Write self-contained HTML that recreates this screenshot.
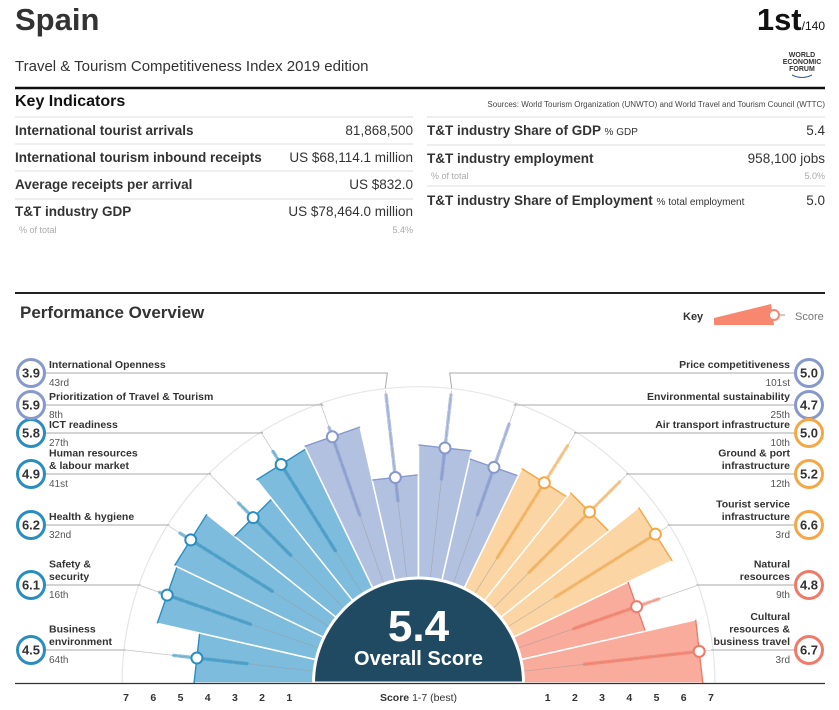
<!DOCTYPE html>
<html><head><meta charset="utf-8"><style>
body{margin:0;background:#fff;overflow:hidden;}
svg{display:block;font-family:"Liberation Sans",Arial,sans-serif;}
</style></head><body>
<svg id="chart" width="839" height="710" viewBox="0 0 839 710">
  <text x="15" y="30" font-size="31" font-weight="bold" fill="#333">Spain</text>
  <text x="825" y="30" text-anchor="end" fill="#111"><tspan font-size="31" font-weight="bold">1st</tspan><tspan font-size="12">/140</tspan></text>
  <text x="15" y="71" font-size="15" fill="#333">Travel &amp; Tourism Competitiveness Index 2019 edition</text>
  <g fill="#333" font-size="7" font-weight="bold" text-anchor="middle">
    <text x="802" y="57">WORLD</text><text x="802" y="64">ECONOMIC</text><text x="802" y="71">FORUM</text>
    <path d="M792 75 Q802 80 812 75" stroke="#335a9a" fill="none" stroke-width="1"/>
  </g>
  <line x1="15" y1="88" x2="825" y2="88" stroke="#111" stroke-width="2.5"/>
  <text x="15" y="106" font-size="16" font-weight="bold" fill="#111">Key Indicators</text>
  <text x="825" y="107" text-anchor="end" font-size="8" fill="#444">Sources: World Tourism Organization (UNWTO) and World Travel and Tourism Council (WTTC)</text>
  <g stroke="#ddd" stroke-width="1">
    <line x1="15" y1="117" x2="413" y2="117"/><line x1="15" y1="144" x2="413" y2="144"/><line x1="15" y1="171" x2="413" y2="171"/><line x1="15" y1="199" x2="413" y2="199"/>
    <line x1="427" y1="117" x2="825" y2="117"/><line x1="427" y1="145" x2="825" y2="145"/><line x1="427" y1="186" x2="825" y2="186"/>
  </g>
  <g font-size="13.5" fill="#333">
    <text x="15" y="135" font-weight="bold">International tourist arrivals</text><text x="413" y="135" text-anchor="end">81,868,500</text>
    <text x="15" y="162" font-weight="bold">International tourism inbound receipts</text><text x="413" y="162" text-anchor="end">US $68,114.1 million</text>
    <text x="15" y="189" font-weight="bold">Average receipts per arrival</text><text x="413" y="189" text-anchor="end">US $832.0</text>
    <text x="15" y="216" font-weight="bold">T&amp;T industry GDP</text><text x="413" y="216" text-anchor="end">US $78,464.0 million</text>
    <text x="19" y="233" font-size="9" fill="#aaa">% of total</text><text x="413" y="233" font-size="9" fill="#aaa" text-anchor="end">5.4%</text>
  </g>
  <g font-size="13.5" fill="#333">
    <text x="427" y="135" font-weight="bold">T&amp;T industry Share of GDP <tspan font-weight="normal" font-size="10">% GDP</tspan></text><text x="825" y="135" text-anchor="end">5.4</text>
    <text x="427" y="163" font-weight="bold">T&amp;T industry employment</text><text x="825" y="163" text-anchor="end">958,100 jobs</text>
    <text x="431" y="179" font-size="9" fill="#aaa">% of total</text><text x="825" y="179" font-size="9" fill="#aaa" text-anchor="end">5.0%</text>
    <text x="427" y="205" font-weight="bold">T&amp;T industry Share of Employment <tspan font-weight="normal" font-size="10">% total employment</tspan></text><text x="825" y="205" text-anchor="end">5.0</text>
  </g>
  <line x1="15" y1="293" x2="825" y2="293" stroke="#222" stroke-width="2"/>
  <text x="20" y="318" font-size="17" font-weight="bold" fill="#333">Performance Overview</text>
  <g>
    <text x="683" y="320" font-size="11" font-weight="bold" fill="#333">Key</text>
    <polygon points="714,318 714,325 774,325 771,304" fill="#f7876f"/>
    <line x1="774" y1="315" x2="785" y2="315" stroke="#999"/>
    <circle cx="774" cy="315" r="5" fill="#fff" stroke="#f7876f" stroke-width="2"/>
    <text x="795" y="320" font-size="11" fill="#777">Score</text>
  </g>
  <g id="plot"></g>
</svg>
<script>
const pillars = ["Business environment","Safety & security","Health & hygiene","Human resources & labour market","ICT readiness","Prioritization of Travel & Tourism","International Openness","Price competitiveness","Environmental sustainability","Air transport infrastructure","Ground & port infrastructure","Tourist service infrastructure","Natural resources","Cultural resources & business travel"];
const scores = [4.5,6.1,6.2,4.9,5.8,5.9,3.9,5.0,4.7,5.0,5.2,6.6,4.8,6.7];
const ranks = ["64th","16th","32nd","41st","27th","8th","43rd","101st","25th","10th","12th","3rd","9th","3rd"];
const distLow = [2.6,2.8,2.6,2.9,2.0,2.8,3.0,3.8,2.8,1.7,2.0,2.2,2.3,2.4];
const distHigh = [5.3,6.4,6.6,5.6,6.3,6.2,6.9,6.9,6.4,6.6,6.7,6.4,5.6,6.4];
const groups = [0,0,0,0,0,1,1,1,1,2,2,2,3,3];
const tickVals = [1,2,3,4,5,6,7];

const fills=["#7dbcdc","#b3c1e1","#fcd5a4","#f9ab9c"];
const strokes=["#2a8dc0","#8799cc","#f5a745","#f07a68"];
const dists=["#2a8dc0","#7a90cc","#f5a745","#f5715c"];
const cx=418.5, cy=683, n=scores.length, step=180/n;
function rad(v){return 102+v*27.2;}
function pt(r,deg){const a=deg*Math.PI/180;return [cx+r*Math.cos(a), cy-r*Math.sin(a)];}
const NS="http://www.w3.org/2000/svg";
const plot=document.getElementById('plot');
function mk(tag,attrs,parent){const e=document.createElementNS(NS,tag);for(const k in attrs)e.setAttribute(k,attrs[k]);(parent||plot).appendChild(e);return e;}

const arc=mk('path',{d:`M${cx-rad(7)-4} ${cy} A${rad(7)+4} ${rad(7)+4} 0 0 1 ${cx+rad(7)+4} ${cy}`,fill:'none',stroke:'#e6e6e6','stroke-width':1.2});



const left=[[650,"Business","environment"],[585,"Safety &","security"],[525,"Health & hygiene"],[474,"Human resources","& labour market"],[433,"ICT readiness"],[405,"Prioritization of Travel & Tourism"],[373,"International Openness"]];
const right=[[373,"Price competitiveness"],[405,"Environmental sustainability"],[433,"Air transport infrastructure"],[474,"Ground & port","infrastructure"],[525,"Tourist service","infrastructure"],[585,"Natural","resources"],[650,"Cultural","resources &","business travel"]];

for(let i=0;i<n;i++){
  const a0=180-i*step, a1=180-(i+1)*step, am=(a0+a1)/2, g=groups[i];
  const r=rad(scores[i]);
  const p0=pt(r,a0), p1=pt(r,a1);
  const w=mk('path',{d:`M${cx} ${cy} L${p0[0]} ${p0[1]} L${p1[0]} ${p1[1]} Z`,fill:fills[g],stroke:'#fff','stroke-width':1.5});
  
  
  const e=mk('line',{x1:p0[0],y1:p0[1],x2:p1[0],y2:p1[1],stroke:strokes[g],'stroke-width':1.5});
  
  
  const po=pt(rad(7)+2,am), pc=pt(102,am);
  const gl=mk('line',{x1:pc[0],y1:pc[1],x2:po[0],y2:po[1],stroke:'#999','stroke-width':0.7,opacity:0.6});
  
  
  const d0=pt(rad(distLow[i]),am), d1=pt(rad(distHigh[i]),am);
  const dl=mk('line',{x1:d0[0],y1:d0[1],x2:d1[0],y2:d1[1],stroke:dists[g],'stroke-width':3.5,opacity:0.55,'stroke-linecap':'round','stroke-dasharray':'12 3 5 2 3 3'});
  
  
  const m=pt(r*Math.cos(step/2*Math.PI/180),am);
  const mc=mk('circle',{cx:m[0],cy:m[1],r:5.5,fill:'#fff',stroke:strokes[g],'stroke-width':2});
  
  
  const isLeft=i<7, L=isLeft?left[i]:right[i-7], by=L[0];
  const lines=L.slice(1);
  const bx=isLeft?31:809;
  const q=pt(rad(7)+4,am);
  const ld=mk('polyline',{points:`${isLeft?45:795},${by} ${q[0]+(isLeft?2:-2)},${by} ${q[0]},${q[1]}`,fill:'none',stroke:'#aaa','stroke-width':1});
  
  
  const bc=mk('circle',{cx:bx,cy:by,r:13.5,fill:'#fff',stroke:strokes[g],'stroke-width':3});
  
  
  const bt=mk('text',{x:bx,y:by+4.5,'text-anchor':'middle','font-size':13,'font-weight':'bold',fill:'#333'});
  bt.textContent=scores[i].toFixed(1);
  
  
  const tx=isLeft?49:790, anchor=isLeft?'start':'end';
  lines.forEach((s,k)=>{
    const t=mk('text',{x:tx,y:by-5-(lines.length-1-k)*12.5,'text-anchor':anchor,'font-size':10.5,'font-weight':'bold',fill:'#333'});
    t.textContent=s;
    
    
  });
  const rt=mk('text',{x:tx,y:by+13,'text-anchor':anchor,'font-size':10,fill:'#555'});
  rt.textContent=ranks[i];
  
  
}
const oc=mk('path',{d:`M${cx-105} ${cy} A105 105 0 0 1 ${cx+105} ${cy} Z`,fill:'#1f4a62',stroke:'#fff','stroke-width':3});


const ov=mk('text',{x:cx,y:641,'text-anchor':'middle','font-size':44,'font-weight':'bold',fill:'#fff'});
ov.textContent="5.4";


const ol=mk('text',{x:cx,y:665,'text-anchor':'middle','font-size':20,'font-weight':'bold',fill:'#fff'});
ol.textContent="Overall Score";


const ax=mk('line',{x1:15,y1:cy+0.5,x2:825,y2:cy+0.5,stroke:'#333','stroke-width':1.3});


tickVals.forEach(v=>{
  [-1,1].forEach(s=>{
    const t=mk('text',{x:cx+s*rad(v),y:701,'text-anchor':'middle','font-size':10.5,'font-weight':'bold',fill:'#333'});
    t.textContent=v;
    
    
  });
});
const st=mk('text',{x:cx,y:701,'text-anchor':'middle','font-size':10.5,fill:'#333'});
st.innerHTML='<tspan font-weight="bold">Score</tspan> 1-7 (best)';


</script>
</body></html>
